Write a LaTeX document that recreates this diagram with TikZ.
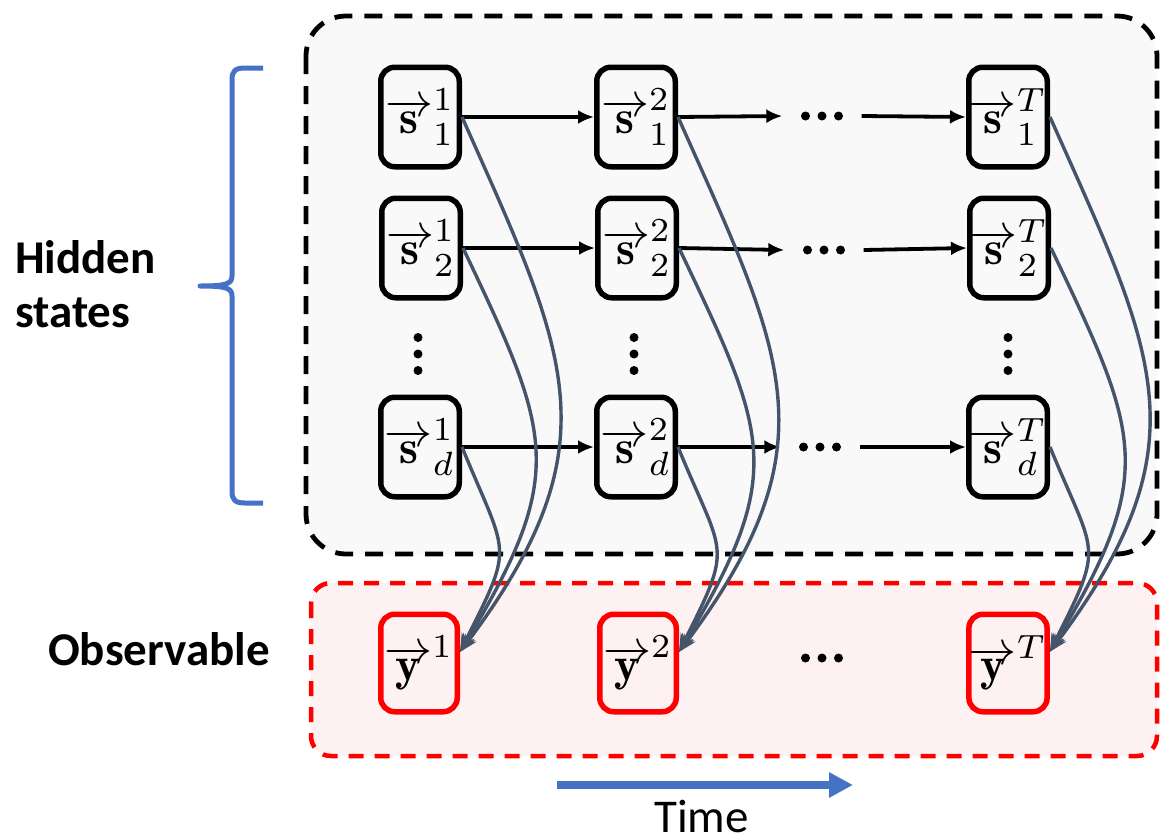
\documentclass[tikz,border=0pt]{standalone}
\usepackage{fontspec}
\newfontfamily\carlito{Carlito}
\usetikzlibrary{arrows.meta}
\definecolor{slate}{HTML}{44546A}
\definecolor{tblue}{HTML}{4472C4}
\definecolor{hidfill}{HTML}{F9F9F9}
\definecolor{obsfill}{HTML}{FDF1F1}
\tikzset{
  statebox/.style={draw=black, line width=5.5pt, rounded corners=14pt,
    minimum width=78.5pt, minimum height=99.5pt, inner sep=0pt},
  obsbox/.style={draw=red, line width=5.5pt, rounded corners=14pt,
    minimum width=76.5pt, minimum height=97.5pt, inner sep=0pt},
  dotsbox/.style={minimum width=79pt, minimum height=10pt, inner sep=0pt},
  harrow/.style={line width=3.8pt, -{Latex[length=16pt,width=14pt]}},
  feed/.style={draw=slate, line width=3.4pt, -{Stealth[length=18pt,width=14pt]}},
  label/.style={font=\carlito\bfseries\fontsize{47}{54}\selectfont, inner sep=0pt},
}
\newcommand\bigmath[1]{\scalebox{4.8}{$#1$}}
\newcommand\threedotsh[1]{\foreach \dx in {-16.5,0,16.5}{\fill (#1.center) ++(\dx,0) circle (4.5pt);}}
\newcommand\threedotsv[1]{\foreach \dy in {-16.5,0,16.5}{\fill (#1) ++(0,\dy) circle (4.5pt);}}
\begin{document}
\begin{tikzpicture}[x=1pt,y=-1pt]
\useasboundingbox (0,0) rectangle (1160,836);

% frames for hidden states and observations
\draw[line width=4.8pt, dash pattern=on 18pt off 12pt, fill=hidfill, rounded corners=40pt]
  (306,16) rectangle (1157,554);
\draw[red, line width=4.5pt, dash pattern=on 15pt off 11pt, fill=obsfill, rounded corners=20pt]
  (311,583) rectangle (1157,756);

% hidden state nodes
\node[statebox] (s11) at (420,117) {\bigmath{\overrightarrow{\mathbf{s}}^{1}_{1}}};
\node[statebox] (s21) at (421,248) {\bigmath{\overrightarrow{\mathbf{s}}^{1}_{2}}};
\node[statebox] (sd1) at (420,447) {\bigmath{\overrightarrow{\mathbf{s}}^{1}_{d}}};
\node[statebox] (s12) at (636,117) {\bigmath{\overrightarrow{\mathbf{s}}^{2}_{1}}};
\node[statebox] (s22) at (637,248) {\bigmath{\overrightarrow{\mathbf{s}}^{2}_{2}}};
\node[statebox] (sd2) at (636,447) {\bigmath{\overrightarrow{\mathbf{s}}^{2}_{d}}};
\node[statebox] (s1T) at (1008,117) {\bigmath{\overrightarrow{\mathbf{s}}^{T}_{1}}};
\node[statebox] (s2T) at (1009,248) {\bigmath{\overrightarrow{\mathbf{s}}^{T}_{2}}};
\node[statebox] (sdT) at (1008,447) {\bigmath{\overrightarrow{\mathbf{s}}^{T}_{d}}};

% observation nodes
\node[obsbox] (y1) at (419,663) {\bigmath{\overrightarrow{\mathbf{y}}^{1}}};
\node[obsbox] (y2) at (638,663) {\bigmath{\overrightarrow{\mathbf{y}}^{2}}};
\node[obsbox] (yT) at (1008,663) {\bigmath{\overrightarrow{\mathbf{y}}^{T}}};

% ellipses
\node[dotsbox] (h1) at (822,116) {};
\node[dotsbox] (h2) at (824,250) {};
\node[dotsbox] (hd) at (820,447) {};
\node[dotsbox] (ho) at (822,658) {};
\threedotsh{h1}
\threedotsh{h2}
\threedotsh{hd}
\threedotsh{ho}
\coordinate (v1) at (418,354);
\coordinate (v2) at (634,354);
\coordinate (vT) at (1008,354);
\threedotsv{v1}
\threedotsv{v2}
\threedotsv{vT}

% transitions in time
\draw[harrow] (s11.east) -- (s12.west);
\draw[harrow] (s21.east) -- (s22.west);
\draw[harrow] (sd1.east) -- (sd2.west);
\draw[harrow] (s12.east) -- (h1.west);
\draw[harrow] (s22.east) -- (h2.west);
\draw[harrow] (sd2.east) -- (hd.west);
\draw[harrow] (h1.east) -- (s1T.west);
\draw[harrow] (h2.east) -- (s2T.west);
\draw[harrow] (hd.east) -- (sdT.west);

% emissions
\foreach \c in {1,2,T}{
  \draw[feed] (s1\c.east) .. controls +(106,238) and +(156,-208) .. (y\c.15);
  \draw[feed] (s2\c.east) .. controls +(89,187) and +(108,-179) .. (y\c.15);
  \draw[feed] (sd\c.east) .. controls +(46,112) and +(55,-110) .. (y\c.15);
}

% brace and labels
\draw[tblue, line width=5pt, line join=round]
  (263,68) -- (245,68) .. controls (235,68) and (232,71) .. (232,80)
  -- (232,276) .. controls (232,284) and (226,286) .. (200,286)
  .. controls (226,286) and (232,288) .. (232,296)
  -- (232,491) .. controls (232,500) and (235,503) .. (245,503) -- (263,503);
\node[label, anchor=base west, align=left] (hid) at (15,327) {Hidden\\states};
\node[label, anchor=base west] (obs) at (48,665) {Observable};

% time axis
\coordinate (t0) at (557,785);
\coordinate (t1) at (853,785);
\draw[tblue, line width=8.5pt, -{Triangle[length=24pt,width=24pt]}] (t0) -- (t1);
\node[font=\carlito\fontsize{47}{54}\selectfont, inner sep=0pt, anchor=base west] (time) at (654,832) {Time};
\end{tikzpicture}
\end{document}
